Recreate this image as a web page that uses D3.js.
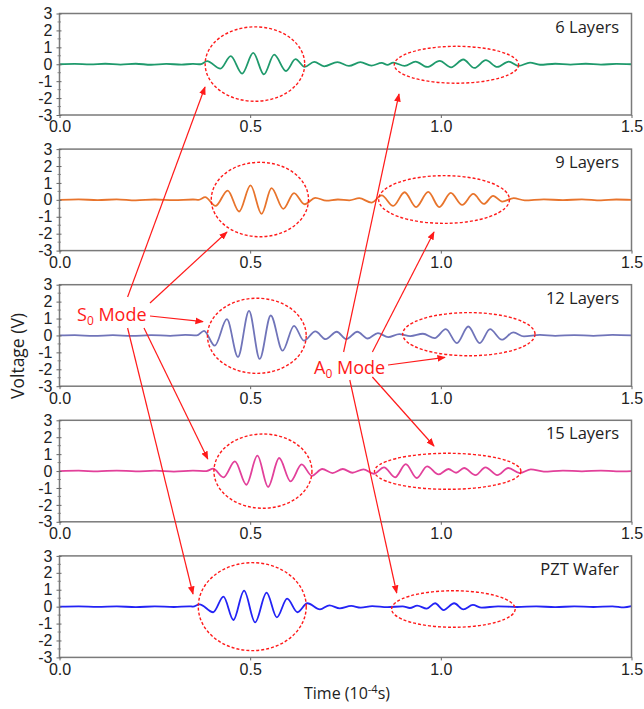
<!DOCTYPE html>
<html><head><meta charset="utf-8">
<script src="https://cdn.jsdelivr.net/npm/d3@7"></script>
<style>
body{margin:0;background:#fff;}
svg{display:block;}
</style></head>
<body>
<svg id="chart" width="644" height="709"></svg>
<script>
// ---- Data (time in 1e-4 s, voltage in V) ----
const panelNames = ["6 Layers", "9 Layers", "12 Layers", "15 Layers", "PZT Wafer"];
const panelColors = ["#1f9a6c", "#e8742c", "#7074b9", "#e2409a", "#2323f5"];
const xTicks = [0.0, 0.5, 1.0, 1.5];
const yTicks = [-3, -2, -1, 0, 1, 2, 3];

const wave6 = [[0,0],[0.04,0.02],[0.08,-0.01],[0.12,0.03],[0.16,-0.02],[0.2,0.03],[0.24,-0.03],[0.28,0.02],[0.32,-0.02],[0.35,0.02],[0.37,0],
 [0.387,0.18],[0.422,-0.26],[0.449,0.48],[0.479,-0.55],[0.508,0.67],[0.536,-0.6],[0.563,0.57],[0.594,-0.4],[0.619,0.3],[0.643,-0.16],
 [0.668,0.14],[0.694,-0.12],[0.729,0.13],[0.759,-0.1],[0.789,0.12],[0.818,-0.08],[0.845,0.08],[0.86,-0.04],[0.875,0.1],[0.905,-0.1],
 [0.934,0.16],[0.964,-0.16],[0.997,0.2],[1.027,-0.18],[1.059,0.28],[1.088,-0.22],[1.118,0.24],[1.148,-0.16],[1.178,0.16],[1.204,-0.1],
 [1.234,0.1],[1.26,-0.03],[1.3,0.03],[1.34,-0.02],[1.38,0.03],[1.42,-0.02],[1.46,0.02],[1.5,0]];
const wave9 = [[0,0],[0.05,0.03],[0.1,-0.02],[0.15,0.03],[0.2,-0.03],[0.25,0.02],[0.3,-0.02],[0.35,0.02],[0.365,0],
 [0.382,0.16],[0.409,-0.36],[0.441,0.55],[0.471,-0.69],[0.501,0.85],[0.53,-0.83],[0.556,0.69],[0.587,-0.53],[0.615,0.4],[0.643,-0.26],
 [0.671,0.12],[0.7,-0.05],[0.73,0.02],[0.76,-0.03],[0.786,0.1],[0.818,-0.16],[0.845,0.26],[0.875,-0.36],[0.905,0.45],[0.935,-0.43],
 [0.967,0.47],[0.996,-0.43],[1.026,0.41],[1.056,-0.3],[1.085,0.35],[1.113,-0.24],[1.137,0.24],[1.161,-0.1],[1.191,0.1],[1.22,-0.03],
 [1.27,0.03],[1.32,-0.02],[1.37,0.03],[1.42,-0.03],[1.46,0.02],[1.5,0]];
const wave12 = [[0,0],[0.04,0.02],[0.09,-0.03],[0.14,0.02],[0.19,-0.03],[0.24,0.02],[0.29,-0.02],[0.33,0.03],[0.36,0],
 [0.379,0.27],[0.407,-0.6],[0.439,0.96],[0.468,-1.27],[0.497,1.45],[0.525,-1.39],[0.554,1.18],[0.585,-0.9],[0.615,0.57],[0.641,-0.31],
 [0.671,0.24],[0.698,-0.22],[0.727,0.22],[0.752,-0.22],[0.781,0.22],[0.808,-0.18],[0.835,0.14],[0.862,-0.1],[0.891,0.08],[0.92,-0.04],
 [0.953,0.1],[0.984,-0.16],[1.013,0.37],[1.042,-0.45],[1.072,0.53],[1.102,-0.45],[1.129,0.37],[1.16,-0.25],[1.19,0.18],[1.218,-0.06],
 [1.26,0.03],[1.3,-0.02],[1.35,0.02],[1.4,-0.02],[1.45,0.03],[1.5,0]];
const wave15 = [[0,0],[0.05,0.02],[0.1,-0.02],[0.15,0.03],[0.2,-0.02],[0.25,0.02],[0.3,-0.03],[0.35,0.02],[0.385,0],
 [0.403,0.14],[0.43,-0.37],[0.46,0.57],[0.49,-0.81],[0.519,0.91],[0.547,-0.94],[0.576,0.77],[0.606,-0.61],[0.635,0.39],[0.662,-0.28],
 [0.689,0.12],[0.716,-0.12],[0.743,0.12],[0.768,-0.1],[0.797,0.1],[0.824,-0.16],[0.851,0.22],[0.88,-0.37],[0.908,0.41],[0.937,-0.41],
 [0.964,0.28],[0.994,-0.2],[1.02,0.12],[1.04,-0.1],[1.061,0.18],[1.091,-0.24],[1.117,0.22],[1.148,-0.24],[1.177,0.18],[1.207,-0.12],
 [1.236,0.1],[1.27,-0.03],[1.32,0.03],[1.37,-0.02],[1.42,0.03],[1.46,-0.02],[1.5,0]];
const wavePZT = [[0,0],[0.05,0.02],[0.1,-0.01],[0.15,0.02],[0.2,-0.03],[0.25,0.02],[0.3,-0.02],[0.34,0.02],[0.35,0],
 [0.367,0.14],[0.403,-0.33],[0.43,0.59],[0.456,-0.79],[0.484,0.95],[0.513,-0.93],[0.543,0.83],[0.57,-0.63],[0.597,0.47],[0.624,-0.33],
 [0.65,0.2],[0.683,-0.16],[0.708,0.08],[0.735,-0.1],[0.765,0.04],[0.79,-0.06],[0.82,0.03],[0.86,-0.03],[0.9,0.02],
 [0.919,-0.08],[0.938,0.06],[0.963,-0.12],[0.985,0.2],[1.007,-0.2],[1.035,0.2],[1.059,-0.16],[1.084,0.1],[1.107,-0.06],
 [1.15,0.02],[1.2,-0.02],[1.25,0.02],[1.3,-0.03],[1.35,0.02],[1.4,-0.02],[1.45,0.02],[1.48,-0.04],[1.5,0.03]];
const waves = [wave6, wave9, wave12, wave15, wavePZT];

// Mode ellipses in data units: [tMin, tMax, vMax, vMin]
const s0Regions = [[0.382,0.643,2.21,-2.19],[0.398,0.653,2.22,-2.18],[0.388,0.647,2.2,-2.24],[0.405,0.662,2.19,-2.2],[0.364,0.647,2.6,-2.6]];
const a0Regions = [[0.878,1.204,1.06,-1.12],[0.837,1.18,1.43,-1.39],[0.9,1.247,1.35,-1.2],[0.826,1.21,1.05,-1.08],[0.871,1.195,0.94,-1.22]];

// ---- Layout ----
const svg = d3.select("#chart");
const left = 59.5, right = 631.5, panelH = 101.5, firstTop = 13.5, step = 135.6;
const x = d3.scaleLinear().domain([0, 1.5]).range([left, right]);
const fontTick = "'Liberation Sans', Arial, sans-serif";
const fontLbl = "'Open Sans', 'Noto Sans', sans-serif";
const red = "#ff1a1a";

panelNames.forEach((name, i) => {
  const top = firstTop + i * step;
  const y = d3.scaleLinear().domain([-3, 3]).range([top + panelH, top]);
  const g = svg.append("g");

  const line = d3.line().x(d => x(d[0])).y(d => y(d[1])).curve(d3.curveMonotoneX);
  g.append("path").datum(waves[i]).attr("d", line)
    .attr("fill", "none").attr("stroke", panelColors[i]).attr("stroke-width", 1.8);

  g.append("rect").attr("x", left).attr("y", top).attr("width", right - left).attr("height", panelH)
    .attr("fill", "none").attr("stroke", "#7a7a7a").attr("stroke-width", 1.5);

  const yAxis = d3.axisLeft(y).tickValues(yTicks).tickSize(3).tickPadding(4);
  const ya = g.append("g").attr("transform", `translate(${left},0)`).call(yAxis);
  ya.select(".domain").remove();
  ya.selectAll("line").attr("stroke", "#666").attr("x2", -3).attr("x1", 2);
  ya.selectAll("text").attr("font-family", fontTick).attr("font-size", 16).attr("fill", "#222")
    .text(d => d < 0 ? "-" + Math.abs(d) : d);
  const minor = d3.range(-2.5, 3, 1);
  g.selectAll(".mt").data(minor).join("line").attr("x1", left - 2).attr("x2", left + 1.5)
    .attr("y1", d => y(d)).attr("y2", d => y(d)).attr("stroke", "#777").attr("stroke-width", 0.8);

  const xAxis = d3.axisBottom(x).tickValues(xTicks).tickSize(3).tickPadding(3).tickFormat(d3.format(".1f"));
  const xa = g.append("g").attr("transform", `translate(0,${top + panelH})`).call(xAxis);
  xa.select(".domain").remove();
  xa.selectAll("line").attr("stroke", "#666");
  xa.selectAll("text").attr("font-family", fontTick).attr("font-size", 16).attr("fill", "#222");

  g.append("text").attr("x", right - 12.5).attr("y", top + 19).attr("text-anchor", "end")
    .attr("font-family", fontLbl).attr("font-size", 16.5).attr("fill", "#222").text(name);

  [s0Regions[i], a0Regions[i]].forEach(r => {
    const cx = (x(r[0]) + x(r[1])) / 2, rx = (x(r[1]) - x(r[0])) / 2;
    const cy = (y(r[2]) + y(r[3])) / 2, ry = (y(r[3]) - y(r[2])) / 2;
    g.append("ellipse").attr("cx", cx).attr("cy", cy).attr("rx", rx).attr("ry", ry)
      .attr("fill", "none").attr("stroke", red).attr("stroke-width", 1.4).attr("stroke-dasharray", "3,2");
  });
});

svg.append("text").attr("transform", "translate(24,356) rotate(-90)").attr("text-anchor", "middle")
  .attr("font-family", fontLbl).attr("font-size", 17.5).attr("fill", "#222").text("Voltage (V)");
const tt = svg.append("text").attr("x", 347).attr("y", 699).attr("text-anchor", "middle")
  .attr("font-family", fontLbl).attr("font-size", 16).attr("fill", "#222");
tt.append("tspan").text("Time (10");
tt.append("tspan").attr("dy", -6).attr("font-size", 11).text("-4");
tt.append("tspan").attr("dy", 6).text("s)");

const defs = svg.append("defs");
defs.append("marker").attr("id", "ah").attr("viewBox", "0 0 10 10").attr("refX", 9).attr("refY", 5)
  .attr("markerWidth", 7).attr("markerHeight", 7).attr("orient", "auto")
  .append("path").attr("d", "M0,1 L10,5 L0,9 z").attr("fill", red);

const s0Arrows = [[127.6,297,205,87],[150,303,227,232],[150,316,203,321.7],[144,328,207.8,459],[127.6,328,193,594]];
const a0Arrows = [[343.6,352,399,94],[372.4,352,434,232],[388,365,445,357.3],[372.4,377,434,446],[349.8,380,396.7,593]];
svg.selectAll(".arr").data(s0Arrows.concat(a0Arrows)).join("line")
  .attr("x1", d => d[0]).attr("y1", d => d[1]).attr("x2", d => d[2]).attr("y2", d => d[3])
  .attr("stroke", red).attr("stroke-width", 1.2).attr("marker-end", "url(#ah)");

function modeLabel(xp, yp, letter) {
  const t = svg.append("text").attr("x", xp).attr("y", yp).attr("font-family", fontLbl)
    .attr("font-size", 18).attr("fill", red);
  t.append("tspan").text(letter);
  t.append("tspan").attr("dy", 4).attr("font-size", 12).text("0");
  t.append("tspan").attr("dy", -4).text(" Mode");
}
modeLabel(77, 321, "S");
modeLabel(314, 374, "A");
</script>
</body></html>
